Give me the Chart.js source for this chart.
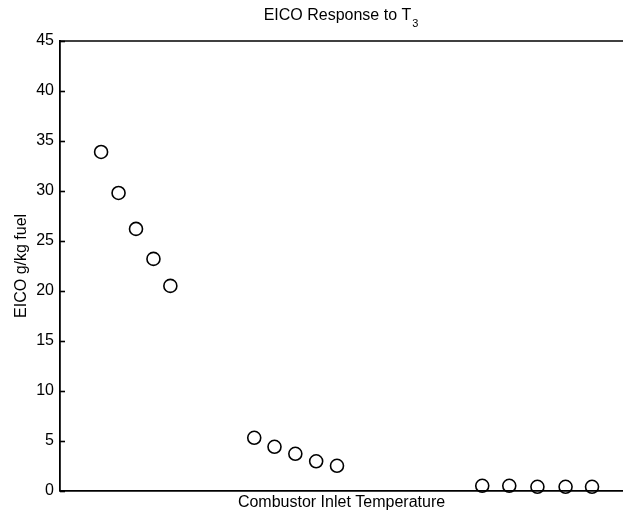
<!DOCTYPE html>
<html>
<head>
<meta charset="utf-8">
<script src="https://cdn.jsdelivr.net/npm/chart.js@4"></script>
<style>
  html, body { margin: 0; padding: 0; background: #fff; }
  #wrap { width: 623px; height: 514px; }
</style>
</head>
<body>
<div id="wrap"><canvas id="chart" width="623" height="514"></canvas></div>
<script>
// Combustor inlet temperature (relative, axis is unlabeled)
const inletTemp = [7.3, 10.4, 13.5, 16.6, 19.6, 34.5, 38.1, 41.8, 45.5, 49.2, 75.0, 79.8, 84.8, 89.8, 94.5];
// EICO, g/kg fuel
const eico = [33.9, 29.8, 26.2, 23.2, 20.5, 5.3, 4.4, 3.7, 2.95, 2.5, 0.5, 0.5, 0.4, 0.4, 0.4];
const yTicks = [0, 5, 10, 15, 20, 25, 30, 35, 40, 45];

const FONT = "'Liberation Sans', Arial, Helvetica, sans-serif";
const INK = '#000';

const points = inletTemp.map((t, i) => ({ x: t, y: eico[i] }));

// title with a subscript "3", plus the top frame line and inward y ticks
const framePlugin = {
  id: 'frame',
  afterDraw(chart) {
    const ctx = chart.ctx;
    const area = chart.chartArea;
    const yScale = chart.scales.y;

    ctx.save();
    ctx.strokeStyle = INK;
    ctx.lineWidth = 1.6;
    ctx.beginPath();
    ctx.moveTo(area.left, area.top);
    ctx.lineTo(area.right, area.top);
    ctx.stroke();

    yScale.ticks.forEach(t => {
      const py = Math.round(yScale.getPixelForValue(t.value)) + 0.5;
      ctx.beginPath();
      ctx.moveTo(area.left, py);
      ctx.lineTo(area.left + 5, py);
      ctx.stroke();
    });

    const main = 'EICO Response to T';
    const sub = '3';
    ctx.fillStyle = INK;
    ctx.textBaseline = 'alphabetic';
    ctx.font = '16px ' + FONT;
    const w1 = ctx.measureText(main).width;
    ctx.font = '11px ' + FONT;
    const w2 = ctx.measureText(sub).width;
    const x0 = 341 - (w1 + w2 + 1) / 2;
    ctx.font = '16px ' + FONT;
    ctx.fillText(main, x0, 20);
    ctx.font = '11px ' + FONT;
    ctx.fillText(sub, x0 + w1 + 1, 27);
    ctx.restore();
  }
};

new Chart(document.getElementById('chart').getContext('2d'), {
  type: 'scatter',
  data: {
    datasets: [{
      data: points,
      pointStyle: 'circle',
      pointRadius: 6.5,
      pointHoverRadius: 6.5,
      pointBorderWidth: 1.6,
      borderColor: INK,
      backgroundColor: 'rgba(0,0,0,0)',
      clip: false
    }]
  },
  plugins: [framePlugin],
  options: {
    responsive: false,
    animation: false,
    events: [],
    layout: {
      autoPadding: false,
      padding: { top: 41, right: 0, bottom: 0, left: 0 }
    },
    plugins: {
      legend: { display: false },
      title: { display: false },
      tooltip: { enabled: false }
    },
    scales: {
      x: {
        type: 'linear',
        min: 0,
        max: 100,
        ticks: { display: false },
        grid: { display: false, drawTicks: false },
        border: { display: true, color: INK, width: 1.8 },
        title: {
          display: true,
          text: 'Combustor Inlet Temperature',
          color: INK,
          font: { family: FONT, size: 16 },
          padding: { top: 2, bottom: 2 }
        }
      },
      y: {
        type: 'linear',
        min: 0,
        max: 45,
        afterBuildTicks: scale => {
          scale.ticks = yTicks.map(v => ({ value: v }));
        },
        afterFit: scale => {
          scale.width = 60;
        },
        ticks: {
          color: INK,
          padding: 6,
          font: { family: FONT, size: 16 }
        },
        grid: { display: false, drawTicks: false },
        border: { display: true, color: INK, width: 1.8 },
        title: {
          display: true,
          text: 'EICO g/kg fuel',
          color: INK,
          font: { family: FONT, size: 16 },
          padding: { top: 12, bottom: 0 }
        }
      }
    }
  }
});
</script>
</body>
</html>
